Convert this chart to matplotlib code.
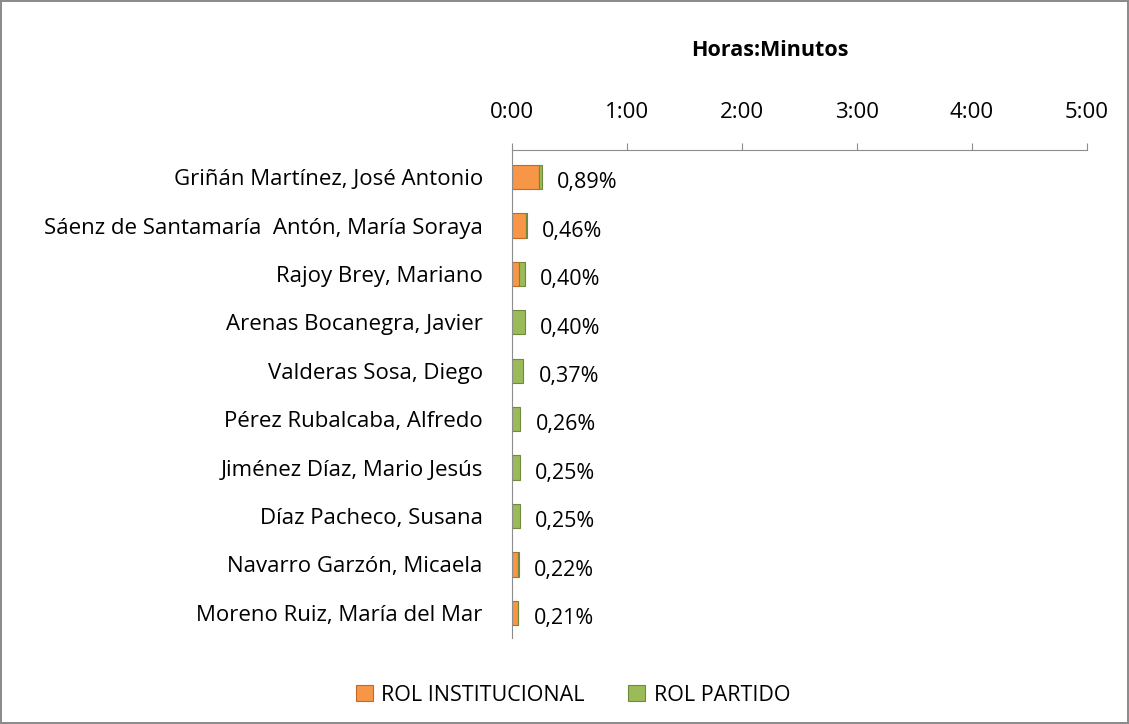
import numpy as np
import matplotlib.pyplot as plt

nombres = ["Griñán Martínez, José Antonio",
           "Sáenz de Santamaría  Antón, María Soraya",
           "Rajoy Brey, Mariano",
           "Arenas Bocanegra, Javier",
           "Valderas Sosa, Diego",
           "Pérez Rubalcaba, Alfredo",
           "Jiménez Díaz, Mario Jesús",
           "Díaz Pacheco, Susana",
           "Navarro Garzón, Micaela",
           "Moreno Ruiz, María del Mar"]
# minutes
rol_institucional = [14.0, 7.4, 3.7, 0.0, 0.2, 0.0, 0.0, 0.0, 3.0, 3.2]
rol_partido = [1.5, 0.3, 3.0, 6.6, 5.6, 4.2, 4.0, 4.0, 0.6, 0.0]
porcentajes = ["0,89%", "0,46%", "0,40%", "0,40%", "0,37%",
               "0,26%", "0,25%", "0,25%", "0,22%", "0,21%"]
ticks_min = [0, 60, 120, 180, 240, 300]
tick_labels = ["0:00", "1:00", "2:00", "3:00", "4:00", "5:00"]

plt.rcParams['font.family'] = ['Open Sans', 'DejaVu Sans']

fig = plt.figure(figsize=(11.29, 7.24), dpi=100)
fig.patch.set_edgecolor('#8c8c8c')
fig.patch.set_linewidth(1.5)
ax = fig.add_axes([0.4535, 0.1188, 0.5093, 0.674])

y = np.arange(len(nombres))
naranja = '#f79646'
verde = '#9bbb59'
h = 0.5
b1 = ax.barh(y, rol_institucional, height=h, color=naranja,
             edgecolor='#c0692a', linewidth=0.8, label='ROL INSTITUCIONAL')
b2 = ax.barh(y, rol_partido, left=rol_institucional, height=h, color=verde,
             edgecolor='#71893f', linewidth=0.8, label='ROL PARTIDO')
for i in y:
    total = rol_institucional[i] + rol_partido[i]
    ax.text(total + 8, i + 0.12, porcentajes[i], va='center', ha='left',
            fontsize=15.5)

ax.set_xlim(0, 300)
ax.set_ylim(len(nombres) - 0.48, -0.56)
ax.xaxis.tick_top()
ax.set_xticks(ticks_min)
ax.set_xticklabels(tick_labels, fontsize=16)
ax.tick_params(axis='x', direction='out', length=5, color='#8c8c8c', pad=14.5)
ax.set_yticks(y)
ax.set_yticklabels(nombres, fontsize=16)
ax.tick_params(axis='y', length=0, pad=21)
for s in ['right', 'bottom']:
    ax.spines[s].set_visible(False)
for s in ['top', 'left']:
    ax.spines[s].set_color('#8c8c8c')
fig.text(770 / 1129, 1 - 51 / 724, 'Horas:Minutos', fontsize=15.5,
         fontweight='bold', ha='center', va='center')

fig.legend(handles=[b1, b2], loc='center', bbox_to_anchor=(0.5075, 0.040),
           ncol=2, frameon=False, fontsize=15.5, handlelength=0.8,
           handleheight=0.8, columnspacing=2.0, handletextpad=0.4)

fig.savefig('out.png', dpi=100)
